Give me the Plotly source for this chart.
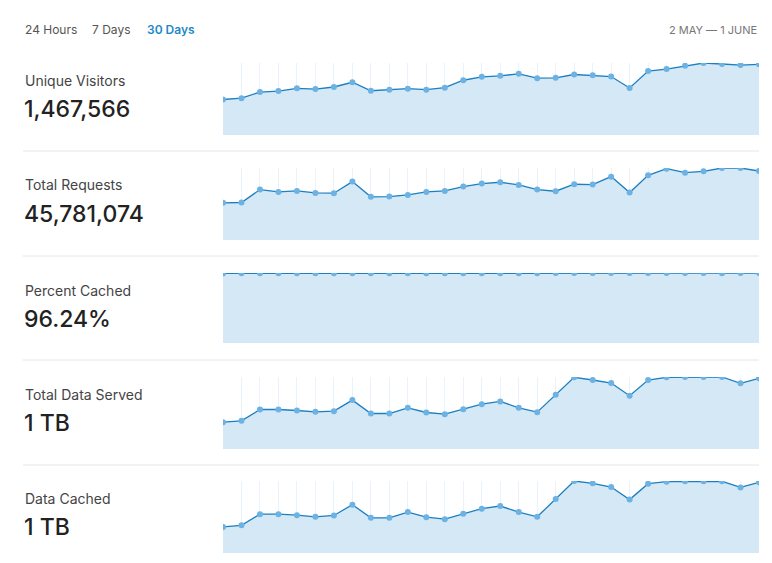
import plotly.graph_objects as go

W, H = 772, 563
days = list(range(30))

titles = ["Unique Visitors", "Total Requests", "Percent Cached", "Total Data Served", "Data Cached"]
totals = ["1,467,566", "45,781,074", "96.24%", "1 TB", "1 TB"]

unique_visitors = [105,109,127,130,138,136,142,156,131,134,137,134,140,162,172,175,181,168,169,179,177,173,139,189,195,205,213,210,207,209]
total_requests = [112,113,152,145,148,142,141,176,130,131,136,145,148,161,170,174,166,152,147,168,167,191,143,195,215,203,207,217,217,208]
percent_cached = [95.9,96.0,96.1,96.0,96.0,96.1,96.2,96.2,96.2,96.2,96.3,96.1,96.1,96.2,96.3,96.3,96.2,96.2,96.4,96.5,96.5,96.4,96.4,96.4,96.4,96.4,96.4,96.3,96.4,96.5]
data_served = [80,84,118,118,115,111,113,146,106,106,123,109,104,119,134,142,123,110,162,214,206,197,159,206,214,215,215,215,196,211]
data_cached = [77,82,115,115,112,107,111,143,104,104,121,106,100,116,131,139,121,107,160,213,206,195,158,205,211,212,212,212,194,209]
series = [unique_visitors, total_requests, percent_cached, data_served, data_cached]

# panel pixel extents (top, bottom)
panels = [(55, 127), (160, 232), (265, 335), (369, 441), (473, 545)]
seps = [143, 248, 352, 457, 561]

def fy(px):
    return 1 - px / H

fig = go.Figure()
layout = dict(width=W, height=H, margin=dict(l=0, r=0, t=0, b=0),
              paper_bgcolor="white", plot_bgcolor="white", showlegend=False,
              font=dict(family="Inter, Roboto, sans-serif", color="#333"))
annotations, shapes = [], []
for i, (vals, (top, bot)) in enumerate(zip(series, panels)):
    n = "" if i == 0 else str(i + 1)
    fig.add_trace(go.Scatter(x=days, y=vals, mode="lines+markers", fill="tozeroy",
                             fillcolor="#d4e8f6", line=dict(color="#1b7fc0", width=1.3),
                             marker=dict(color="#6cb2e3", size=6),
                             xaxis="x" + n, yaxis="y" + n, hoverinfo="skip"))
    layout["xaxis" + n] = dict(domain=[215 / W, 751 / W], range=[0, 29], showgrid=True,
                               gridcolor="#eaf3fb", dtick=1, zeroline=False,
                               showticklabels=False, fixedrange=True, anchor="y" + n)
    layout["yaxis" + n] = dict(domain=[fy(bot), fy(top)], range=[0, max(vals)],
                               showgrid=False, zeroline=False, showticklabels=False,
                               anchor="x" + n)
    annotations.append(dict(x=15 / W, y=fy(top + 17), xref="paper", yref="paper",
                            text=titles[i], showarrow=False, xanchor="left", yanchor="middle",
                            font=dict(size=14, color="#444")))
    annotations.append(dict(x=14 / W, y=fy(top + 46), xref="paper", yref="paper",
                            text=totals[i], showarrow=False, xanchor="left", yanchor="middle",
                            font=dict(size=23, color="#222", weight=500)))
    shapes.append(dict(type="line", xref="paper", yref="paper", x0=15 / W, x1=751 / W,
                       y0=fy(seps[i]), y1=fy(seps[i]), line=dict(color="#e6e6e6", width=1)))

for txt, x, col, wt in [("24 Hours", 15, "#555", 400), ("7 Days", 82, "#555", 400), ("30 Days", 137, "#1e88c7", 600)]:
    annotations.append(dict(x=x / W, y=fy(22), xref="paper", yref="paper", text=txt,
                            showarrow=False, xanchor="left", yanchor="middle",
                            font=dict(size=12, color=col, weight=wt)))
annotations.append(dict(x=751 / W, y=fy(22), xref="paper", yref="paper", text="2 MAY — 1 JUNE",
                        showarrow=False, xanchor="right", yanchor="middle",
                        font=dict(size=11, color="#777")))
layout["annotations"] = annotations
layout["shapes"] = shapes
fig.update_layout(**layout)
fig.write_html("out.html")
